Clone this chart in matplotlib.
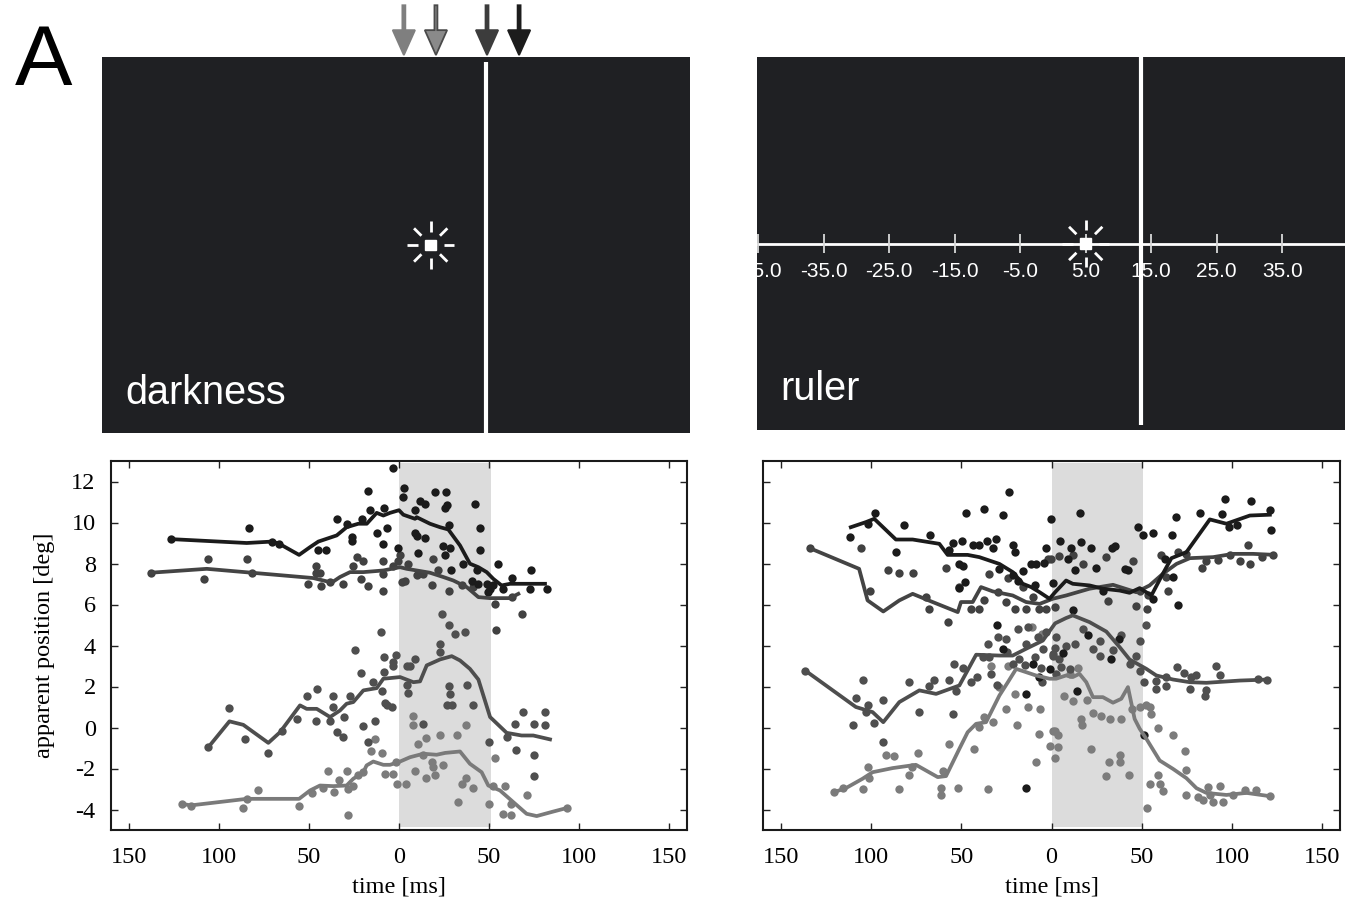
import numpy as np
import matplotlib
matplotlib.use('Agg')
import matplotlib.pyplot as plt
from matplotlib.patches import Rectangle

plt.rcParams['axes.unicode_minus'] = False

# ---------------- data: darkness condition (time [ms], apparent position [deg])
dark_line_1 = [(-126.8, 9.19), (-84.6, 9.0), (-70.4, 9.07), (-66.5, 8.96), (-55.5, 8.42), (-49.4, 8.8),
               (-44.8, 9.07), (-34.6, 9.37), (-29.1, 9.77), (-22.6, 9.94), (-17.9, 9.94), (-12.4, 10.47),
               (-8.7, 10.34), (-5.0, 10.47), (0.0, 10.6), (2.4, 10.38), (8.9, 10.18), (9.8, 10.26),
               (17.2, 9.94), (22.8, 9.77), (27.4, 9.66), (33.9, 8.88), (39.4, 7.99), (44.1, 7.82),
               (48.7, 7.58), (52.4, 7.25), (57.0, 6.93), (61.7, 7.01), (72.8, 7.01), (81.1, 7.01)]
dark_dots_1 = [(-126.8, 9.19), (-83.3, 9.73), (-70.4, 9.07), (-66.5, 8.96), (-44.8, 8.64), (-40.5, 8.64),
               (-34.2, 10.18), (-29.1, 9.94), (-26.3, 9.29), (-26.3, 9.12), (-20.4, 10.18), (-17.4, 11.56),
               (-16.1, 10.62), (-12.4, 9.5), (-9.1, 8.96), (-8.1, 10.7), (-6.5, 9.73), (-3.1, 12.65),
               (-0.7, 8.75), (2.8, 11.68), (2.0, 11.24), (8.9, 10.62), (11.7, 11.03), (14.4, 10.91),
               (20.0, 11.48), (26.1, 11.48), (26.5, 10.83), (25.6, 10.7), (8.9, 9.5), (9.8, 9.34),
               (14.4, 9.24), (24.6, 8.85), (28.0, 9.86), (28.3, 8.75), (25.6, 8.42), (42.2, 10.91),
               (45.0, 9.73), (45.0, 8.64), (10.7, 8.52), (35.7, 7.99), (43.1, 7.66), (40.4, 7.17),
               (44.1, 7.01), (48.7, 7.01), (49.6, 6.6), (55.2, 7.99), (58.0, 6.77), (62.6, 7.29),
               (73.1, 7.66), (72.8, 6.77), (82.0, 6.77), (50.6, 6.77), (52.4, 6.96), (28.7, 7.66)]
dark_line_2 = [(-138.0, 7.55), (-106.8, 7.74), (-81.8, 7.55), (-47.6, 7.29), (-38.3, 7.09), (-36.5, 7.12),
               (-32.8, 7.34), (-27.2, 7.58), (-19.8, 7.58), (-8.7, 7.66), (0.6, 7.82), (4.3, 7.74),
               (9.8, 7.66), (17.2, 7.55), (24.6, 7.34), (30.2, 7.17), (37.6, 6.85), (44.1, 6.36),
               (50.6, 6.31), (56.1, 6.31), (61.7, 6.31), (66.3, 6.52)]
dark_dots_2 = [(-138.0, 7.55), (-105.9, 8.2), (-108.3, 7.22), (-84.6, 8.2), (-81.8, 7.55), (-50.4, 7.01),
               (-46.1, 7.87), (-46.1, 7.55), (-43.5, 6.9), (-43.9, 7.55), (-38.3, 7.12), (-31.3, 7.01),
               (-25.4, 7.9), (-23.5, 8.31), (-21.1, 7.22), (-20.2, 8.1), (-17.4, 6.9), (-9.1, 6.68),
               (-9.1, 8.1), (-8.7, 7.5), (-3.1, 7.9), (-0.4, 8.1), (0.6, 8.42), (3.3, 7.17), (1.5, 7.12),
               (5.2, 7.99), (9.8, 7.45), (13.5, 7.5), (18.1, 6.93), (19.1, 8.2), (21.9, 7.66),
               (28.0, 6.68), (34.8, 6.93), (41.3, 6.85), (53.3, 6.03), (62.6, 6.36), (68.1, 5.55),
               (53.9, 4.78)]
dark_line_3 = [(-105.9, -0.96), (-94.2, 0.3), (-86.5, 0.13), (-72.6, -0.75), (-66.1, -0.23), (-55.0, 1.08),
               (-51.3, 0.91), (-45.7, 0.91), (-38.3, 0.51), (-32.8, 0.83), (-29.1, 1.16), (-25.4, 1.24),
               (-19.8, 1.81), (-12.4, 1.92), (-8.7, 2.38), (-5.0, 2.41), (0.6, 2.46), (8.0, 2.21),
               (11.7, 2.25), (15.4, 3.03), (22.8, 3.32), (29.3, 3.48), (33.9, 3.27), (39.4, 2.86),
               (44.1, 2.34), (50.6, 0.51), (59.8, -0.26), (68.1, -0.39), (74.6, -0.39), (83.9, -0.58)]
dark_dots_3 = [(-105.9, -0.96), (-94.2, 0.94), (-85.5, -0.58), (-72.6, -1.25), (-65.2, -0.15), (-56.5, 0.42),
               (-51.3, 1.53), (-45.4, 1.86), (-46.1, 0.3), (-38.3, 0.3), (-36.5, 1.53), (-36.5, 0.99),
               (-34.6, -0.23), (-31.3, -0.47), (-30.4, 0.51), (-27.2, 1.53), (-24.4, 3.76), (-21.3, 2.67),
               (-20.2, 0.07), (-17.0, -0.71), (-14.3, 2.21), (-13.2, 0.3), (-10.0, 4.68), (-9.5, 1.76),
               (-8.3, 3.43), (-8.3, 2.73), (-6.8, 1.11), (-7.8, 1.21), (-4.1, 0.99), (-3.1, 3.19),
               (-3.1, 2.98), (-1.7, 3.55), (4.3, 2.99), (6.1, 2.99), (8.9, 3.35), (4.3, 2.05), (5.2, 1.69),
               (23.7, 5.55), (28.0, 4.98), (31.1, 4.57), (36.7, 4.68), (22.8, 4.08), (22.8, 3.68),
               (28.0, 2.02), (28.3, 1.64), (37.6, 2.08), (29.3, 1.11), (26.5, 1.11), (40.9, 1.11),
               (13.5, 0.18), (50.2, -0.71), (59.8, -0.47), (64.4, 0.18), (65.0, -1.12), (69.1, 0.75),
               (75.0, 0.18), (81.1, 0.75), (81.1, 0.1), (75.0, -1.36), (75.0, -2.37)]
dark_line_4 = [(-120.7, -3.72), (-115.7, -3.8), (-84.6, -3.48), (-55.5, -3.48), (-49.4, -3.07), (-43.9, -2.83),
               (-36.5, -2.86), (-29.1, -2.83), (-25.4, -2.5), (-19.8, -2.18), (-18.0, -1.85), (-14.3, -1.66),
               (-8.7, -1.82), (-5.0, -1.82), (0.6, -1.66), (6.1, -1.45), (13.5, -1.28), (20.9, -1.33),
               (25.6, -1.24), (33.9, -1.17), (39.4, -1.77), (45.9, -2.18), (49.6, -2.83), (56.1, -3.07),
               (63.5, -3.64), (70.9, -4.21), (76.5, -4.32), (85.7, -4.1), (93.1, -3.93)]
dark_dots_4 = [(-120.7, -3.72), (-115.7, -3.84), (-84.6, -3.48), (-86.5, -3.93), (-78.1, -3.04), (-55.5, -3.84),
               (-48.5, -3.19), (-42.4, -2.96), (-39.2, -2.14), (-36.1, -3.15), (-33.1, -2.58), (-29.1, -2.14),
               (-28.1, -3.02), (-28.1, -4.26), (-25.4, -2.83), (-22.6, -2.31), (-19.8, -2.18), (-15.7, -1.17),
               (-13.2, -0.58), (-9.3, -1.23), (-7.8, -2.26), (-3.1, -2.26), (-1.7, -1.66), (-1.3, -2.75),
               (3.9, -2.75), (8.0, 0.55), (7.6, 0.1), (8.9, -2.14), (10.7, -0.79), (13.5, -1.36),
               (15.0, -0.52), (15.0, -2.47), (19.1, -1.93), (20.0, -2.34), (18.1, -1.69), (22.8, -0.36),
               (24.6, -1.85), (32.0, -0.36), (33.0, -3.64), (34.8, -2.75), (37.2, -2.47), (37.2, 0.1),
               (40.9, -2.96), (50.2, -3.72), (53.3, -1.49), (52.4, -2.83), (58.9, -2.83), (58.0, -4.21),
               (62.0, -3.72), (62.0, -4.29), (70.9, -3.29), (93.1, -3.93)]

# ---------------- data: ruler condition
ruler_line_1 = [(-111.3, 9.77), (-102.9, 10.02), (-98.3, 10.18), (-86.3, 9.17), (-77.0, 9.17), (-62.2, 8.96),
                (-57.6, 8.42), (-46.5, 8.42), (-40.0, 8.31), (-28.9, 7.98), (-21.5, 7.58), (-15.9, 7.01),
                (-11.3, 6.85), (-6.6, 6.6), (-1.1, 6.28), (2.0, 6.6), (8.1, 7.17), (11.8, 7.01), (21.1, 6.93),
                (28.5, 6.77), (37.8, 6.68), (43.3, 6.57), (48.9, 6.8), (55.4, 6.44), (61.0, 7.38),
                (66.5, 8.26), (74.8, 8.55), (87.8, 10.15), (97.0, 9.94), (110.0, 10.34), (121.1, 10.38)]
ruler_dots_1 = [(-111.8, 9.29), (-102.0, 9.94), (-97.8, 10.47), (-81.7, 9.86), (-86.3, 8.55), (-67.4, 9.4),
                (-54.8, 9.01), (-57.0, 8.68), (-49.6, 9.08), (-47.4, 10.47), (-51.1, 7.98), (-48.9, 7.9),
                (-47.8, 7.09), (-51.1, 6.8), (-43.7, 8.91), (-40.0, 8.88), (-37.2, 10.64), (-35.7, 9.08),
                (-32.6, 8.75), (-30.7, 9.2), (-30.3, 4.98), (-27.0, 10.38), (-23.7, 11.48), (-21.5, 8.88),
                (-20.5, 8.55), (-28.9, 7.74), (-21.5, 7.42), (-18.7, 7.17), (-15.9, 7.61), (-11.3, 7.99),
                (-8.5, 7.99), (-8.9, 6.93), (-3.0, 8.75), (-0.2, 10.18), (0.8, 7.06), (4.5, 9.08),
                (-27.0, 3.84), (-14.1, 1.64), (-7.0, 2.46), (-1.1, 2.86), (-10.4, 3.11), (-14.1, -2.94),
                (-3.9, 8.03), (10.9, 8.75), (9.1, 8.23), (12.8, 7.66), (16.5, 9.04), (15.9, 10.47),
                (22.0, 8.75), (24.8, 7.77), (28.5, 6.64), (33.7, 8.75), (35.0, 8.85), (40.6, 7.74),
                (42.4, 7.66), (48.0, 9.77), (50.7, 9.37), (56.3, 9.5), (56.3, 6.25), (62.8, 8.2),
                (67.4, 7.33), (67.0, 9.4), (69.3, 10.26), (70.2, 5.99), (82.2, 10.47), (94.3, 10.42),
                (96.1, 11.16), (98.5, 9.77), (102.9, 9.86), (110.9, 11.03), (121.1, 10.59), (121.5, 9.61),
                (11.8, 5.71), (20.2, 4.52), (37.4, 4.32), (33.1, 3.32), (14.1, 1.76), (51.1, -0.36),
                (6.3, 3.64)]
ruler_line_2 = [(-134.1, 8.75), (-106.7, 7.74), (-102.0, 6.2), (-93.3, 5.66), (-84.4, 6.2), (-77.0, 6.52),
                (-65.9, 6.12), (-52.0, 5.63), (-50.2, 6.12), (-43.7, 6.12), (-39.1, 6.85), (-32.6, 6.64),
                (-21.5, 6.44), (-14.1, 6.12), (-6.6, 6.03), (0.7, 6.28), (8.1, 6.44), (21.1, 6.77),
                (34.1, 6.96), (47.0, 6.6), (54.4, 6.93), (61.8, 7.5), (69.3, 7.98), (76.7, 8.26),
                (89.6, 8.31), (100.7, 8.47), (111.8, 8.47), (123.9, 8.42)]
ruler_dots_2 = [(-134.1, 8.75), (-105.7, 8.75), (-100.5, 6.64), (-90.9, 7.66), (-84.4, 7.55), (-76.6, 7.55),
                (-69.6, 6.36), (-68.1, 5.76), (-57.6, 5.14), (-58.5, 7.77), (-51.5, 6.85), (-44.6, 5.76),
                (-40.0, 5.76), (-37.2, 6.2), (-34.8, 7.5), (-29.8, 6.6), (-25.2, 6.12), (-20.0, 5.76),
                (-24.2, 7.29), (-14.1, 5.76), (-7.0, 5.76), (-3.0, 5.76), (1.7, 5.87), (-0.2, 8.2),
                (-15.9, 6.85), (-10.4, 6.36), (-2.0, 8.23), (4.4, 8.39), (11.8, 8.42), (17.4, 7.99),
                (30.4, 8.31), (31.3, 6.15), (47.0, 5.95), (45.2, 8.1), (48.9, 6.64), (53.5, 6.44),
                (52.9, 5.76), (60.9, 8.42), (64.6, 6.64), (63.7, 7.33), (70.2, 8.55), (83.2, 7.77),
                (85.9, 8.1), (92.4, 8.15), (98.9, 8.42), (104.4, 8.1), (110.0, 7.99), (109.1, 8.91),
                (116.5, 8.31), (123.0, 8.42), (74.8, 8.47)]
ruler_line_3 = [(-136.6, 2.78), (-108.5, 1.0), (-99.2, 0.75), (-93.3, 0.26), (-84.4, 1.24), (-73.3, 1.81),
                (-64.0, 1.64), (-51.1, 2.05), (-41.8, 3.55), (-28.9, 3.51), (-21.5, 3.51), (-14.1, 3.84),
                (-4.8, 4.24), (2.0, 5.08), (8.1, 5.34), (11.8, 5.47), (21.1, 5.14), (30.4, 4.68),
                (37.8, 3.92), (43.3, 3.32), (52.6, 2.86), (58.1, 2.54), (67.4, 2.34), (76.7, 2.21),
                (85.9, 2.18), (104.4, 2.29), (120.2, 2.34)]
ruler_dots_3 = [(-136.6, 2.78), (-104.4, 2.34), (-108.5, 1.43), (-101.5, 1.11), (-102.6, 0.75), (-110.3, 0.1),
                (-98.3, 0.23), (-93.7, -0.71), (-93.3, 1.32), (-79.2, 2.21), (-73.3, 0.78), (-67.7, 2.02),
                (-65.0, 2.34), (-56.6, 2.34), (-52.9, 1.76), (-53.9, 3.11), (-48.9, 2.9), (-54.4, 0.67),
                (-44.6, 2.21), (-41.5, 2.46), (-35.3, 4.08), (-38.1, 3.43), (-34.4, 3.43), (-33.5, 2.62),
                (-30.3, 2.05), (-29.8, 4.41), (-25.2, 4.32), (-24.8, 3.68), (-21.5, 3.11), (-18.7, 4.82),
                (-18.1, 3.32), (-14.9, 3.03), (-14.1, 4.08), (-13.1, 4.9), (-8.9, 3.43), (-7.6, 4.41),
                (-5.7, 2.9), (-5.2, 2.21), (-4.8, 3.84), (0.8, 3.51), (1.7, 3.87), (2.6, 4.41),
                (-3.0, 4.65), (1.1, 3.6), (8.1, 4.0), (2.6, 2.62), (4.4, 3.32), (10.0, 2.86), (5.4, 2.94),
                (12.8, 4.08), (17.4, 4.82), (26.7, 4.24), (23.0, 3.84), (26.7, 3.51), (34.1, 3.8),
                (38.7, 4.49), (43.3, 3.11), (48.9, 4.24), (47.0, 3.51), (52.2, 4.98), (48.9, 2.78),
                (51.1, 2.21), (57.8, 2.29), (63.7, 2.46), (58.1, 1.89), (63.3, 2.02), (69.6, 2.94),
                (73.3, 2.67), (77.6, 2.46), (80.0, 2.54), (76.7, 1.89), (85.9, 1.81), (85.0, 1.53),
                (91.5, 2.99), (93.3, 2.57), (114.6, 2.38), (119.3, 2.34)]
ruler_line_4 = [(-120.5, -3.15), (-114.1, -2.96), (-104.8, -2.5), (-99.2, -2.18), (-88.1, -1.98), (-75.2, -1.82),
                (-63.1, -2.42), (-58.5, -2.37), (-51.1, -1.04), (-46.5, -0.23), (-41.8, 0.18), (-36.3, 0.26),
                (-32.6, 0.91), (-28.9, 1.56), (-24.2, 2.21), (-19.6, 2.86), (-14.1, 2.7), (-8.7, 2.54),
                (-1.1, 2.38), (2.6, 2.38), (8.1, 2.54), (11.8, 2.46), (15.5, 2.62), (19.3, 2.21),
                (23.0, 1.48), (28.5, 1.48), (34.1, 1.21), (38.7, 1.4), (42.4, 1.97), (46.1, 0.42),
                (48.9, -0.06), (52.6, -0.55), (60.0, -1.61), (67.4, -2.02), (74.8, -2.47), (80.4, -2.96),
                (85.9, -3.19), (97.0, -3.29), (108.1, -3.19), (121.1, -3.35)]
ruler_dots_4 = [(-120.5, -3.15), (-115.9, -2.96), (-104.4, -3.02), (-102.0, -1.93), (-101.1, -2.47),
                (-91.8, -1.36), (-87.2, -1.4), (-84.4, -3.02), (-78.9, -2.31), (-77.4, -1.93), (-74.2, -1.23),
                (-61.3, -2.96), (-61.3, -3.29), (-60.3, -2.14), (-57.0, -0.8), (-52.0, -2.96), (-42.8, -1.04),
                (-40.4, 0.02), (-37.2, 0.51), (-35.3, -3.02), (-33.5, 2.99), (-32.6, 0.26), (-28.9, 1.97),
                (-25.2, 0.88), (-24.2, 2.99), (-20.0, 1.64), (-19.2, 0.1), (-13.1, 0.99), (-10.7, 4.9),
                (-6.6, 0.88), (-8.5, -1.66), (-5.2, 4.57), (1.7, -0.15), (3.5, -0.39), (1.7, -1.49),
                (-1.1, -0.88), (-6.7, -0.31), (0.7, -0.15), (3.5, -0.96), (6.7, 1.56), (10.0, 2.62),
                (11.8, 1.3), (14.6, 2.9), (16.5, 0.42), (17.0, 0.13), (19.8, 1.32), (21.7, -1.07),
                (23.0, 0.71), (27.6, 0.55), (30.0, -2.37), (32.2, 0.42), (31.8, -1.69), (37.8, -1.36),
                (37.8, -1.69), (38.7, 0.42), (43.0, -2.31), (44.8, 0.91), (48.9, 0.99), (52.2, 1.11),
                (52.9, -3.93), (54.4, 0.99), (55.4, 0.67), (54.4, -2.75), (59.1, -0.03), (59.1, -2.31),
                (60.0, -2.75), (61.8, -3.12), (67.4, -0.36), (73.9, -1.17), (74.8, -2.05), (74.8, -3.29),
                (81.3, -3.4), (84.1, -3.56), (86.8, -2.91), (87.8, -3.29), (89.6, -3.61), (93.3, -2.86),
                (95.2, -3.61), (100.7, -3.29), (107.2, -3.07), (113.3, -3.07), (121.1, -3.35)]

time_ticks = [-150, -100, -50, 0, 50, 100, 150]
time_labels = ['150', '100', '50', '0', '50', '100', '150']
pos_ticks = [-4, -2, 0, 2, 4, 6, 8, 10, 12]
flash_window = (0, 51)

# stimulus schematic (deg)
flash_pos = 5.0
bar_pos = 13.5
arrow_pos = [0.9, 5.8, 13.6, 18.5]
ruler_ticks = np.arange(-45, 46, 10)
ruler_labelled = np.arange(-45, 36, 10)

line_colors = ['#1b1b1b', '#444444', '#4e4e4e', '#7a7a7a']
dot_colors = ['#1b1b1b', '#414141', '#4f4f4f', '#7c7c7c']
panel_color = '#1f2023'

fig = plt.figure(figsize=(13.58, 9.07), dpi=100)

serif = 'Liberation Serif'
sans = 'Liberation Sans'


def flash(ax, x0, y0):
    ax.add_patch(Rectangle((x0 - 0.8, y0 - 0.8), 1.6, 1.6, color='white', zorder=5))
    for a in np.arange(8) * np.pi / 4:
        ax.plot([x0 + 2.0 * np.cos(a), x0 + 3.6 * np.cos(a)],
                [y0 + 2.0 * np.sin(a), y0 + 3.6 * np.sin(a)],
                color='white', lw=2, solid_capstyle='butt', zorder=5)


def panel(ax, ylim):
    ax.set_facecolor(panel_color)
    ax.set_xlim(-45.2, 44.6)
    ax.set_ylim(-ylim, ylim)
    ax.set_xticks([])
    ax.set_yticks([])
    for s in ax.spines.values():
        s.set_visible(False)


# top-left: darkness
axd = fig.add_axes([102 / 1358, 1 - 433 / 907, 588 / 1358, 376 / 907])
panel(axd, 28.7)
axd.plot([bar_pos, bar_pos], [-28.7, 27.9], color='white', lw=3, solid_capstyle='butt')
flash(axd, flash_pos, 0)
axd.text(0.039, 0.077, 'darkness', transform=axd.transAxes, color='white',
         fontsize=28.5, family=sans, va='baseline', ha='left')
arrow_faces = ['#7f7f7f', '#8a8a8a', '#3c3c3c', '#1c1c1c']
arrow_edges = ['#7f7f7f', '#4a4a4a', '#3c3c3c', '#1c1c1c']
for xa, fc, ec in zip(arrow_pos, arrow_faces, arrow_edges):
    axd.arrow(xa, 36.6, 0, -7.6, width=0.45, head_width=3.4, head_length=3.8,
              length_includes_head=True, fc=fc, ec=ec, lw=1.3, clip_on=False)

# top-right: ruler
axr = fig.add_axes([757 / 1358, 1 - 430 / 907, 588 / 1358, 373 / 907])
panel(axr, 28.45)
axr.axhline(0, color='white', lw=2)
axr.vlines(ruler_ticks, -1.4, 1.4, color='#d8d8d8', lw=1.3)
for v in ruler_labelled:
    axr.text(v, -4.3, f'{v:.1f}', color='white', fontsize=15, family=sans,
             ha='center', va='center', clip_on=True)
axr.plot([bar_pos, bar_pos], [-27.7, 28.45], color='white', lw=3, solid_capstyle='butt')
flash(axr, flash_pos, 0)
axr.text(0.039, 0.08, 'ruler', transform=axr.transAxes, color='white',
         fontsize=28.5, family=sans, va='baseline', ha='left')

fig.text(15 / 1358, 1 - 85 / 907, 'A', fontsize=62, family=sans, ha='left', va='baseline')


def results(ax, lines, dots, show_y):
    ax.axvspan(*flash_window, ymin=0.008, ymax=0.995, color='#dcdcdc', lw=0, zorder=0)
    for i in range(3, -1, -1):
        d = np.array(dots[i]).T
        ax.scatter(d[0], d[1], s=36, color=dot_colors[i], lw=0, zorder=2)
    for i in range(3, -1, -1):
        l = np.array(lines[i]).T
        ax.plot(l[0], l[1], color=line_colors[i], lw=2.7, zorder=3, solid_joinstyle='round')
    ax.set_xlim(-160, 160)
    ax.set_ylim(-5, 13)
    ax.set_xticks(time_ticks)
    ax.set_xticklabels(time_labels)
    ax.set_yticks(pos_ticks)
    ax.tick_params(direction='in', top=True, right=True, length=5, width=1,
                   labelsize=17.5, color='#222222')
    ax.tick_params(axis='x', pad=12)
    ax.tick_params(axis='y', pad=11)
    for lab in ax.get_xticklabels() + ax.get_yticklabels():
        lab.set_family(serif)
    if not show_y:
        ax.set_yticklabels([])
    for s in ax.spines.values():
        s.set_linewidth(1.5)
        s.set_color('#1a1a1a')
    ax.set_xlabel('time [ms]', family=serif, fontsize=17.5, labelpad=6)


axb1 = fig.add_axes([111 / 1358, 1 - 830 / 907, 576 / 1358, 369 / 907])
results(axb1, [dark_line_1, dark_line_2, dark_line_3, dark_line_4],
        [dark_dots_1, dark_dots_2, dark_dots_3, dark_dots_4], True)
axb1.set_ylabel('apparent position [deg]', family=serif, fontsize=17.5, labelpad=12)

axb2 = fig.add_axes([763 / 1358, 1 - 830 / 907, 577 / 1358, 369 / 907])
results(axb2, [ruler_line_1, ruler_line_2, ruler_line_3, ruler_line_4],
        [ruler_dots_1, ruler_dots_2, ruler_dots_3, ruler_dots_4], False)

fig.savefig('out.png', dpi=100, facecolor='white')
